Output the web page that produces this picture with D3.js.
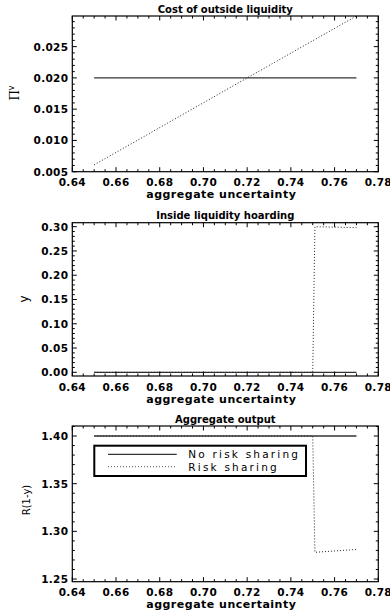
<!DOCTYPE html>
<html>
<head>
<meta charset="utf-8">
<script src="https://cdn.jsdelivr.net/npm/d3@7"></script>
<style>
	body { margin: 0; background: #fff; }
	.tick-label { font-family: "DejaVu Sans", sans-serif; font-weight: bold; font-size: 10.5px; letter-spacing: 0.3px; }
	.axis-title { font-family: "DejaVu Sans", sans-serif; font-weight: bold; font-size: 11px; }
	.panel-title { font-family: "DejaVu Sans", sans-serif; font-weight: bold; font-size: 10px; }
	.legend-text { font-family: "DejaVu Sans", sans-serif; font-size: 10.5px; letter-spacing: 2.2px; }
</style>
</head>
<body>
<div class="chart"></div>
<script>
	// ---- data ----
	var xTicks = [0.64, 0.66, 0.68, 0.70, 0.72, 0.74, 0.76, 0.78];

	// panel 1: cost of outside liquidity
	var costNoShareX = [0.65, 0.77];
	var costNoShareY = [0.020, 0.020];
	var costShareX = [0.65, 0.72, 0.77];
	var costShareY = [0.0061, 0.0200, 0.0299];
	var costTicks = [0.005, 0.010, 0.015, 0.020, 0.025];

	// panel 2: inside liquidity hoarding
	var hoardNoShareX = [0.65, 0.77];
	var hoardNoShareY = [0.0, 0.0];
	var hoardShareX = [0.65, 0.750, 0.751, 0.77];
	var hoardShareY = [0.0, 0.0, 0.300, 0.298];
	var hoardTicks = [0.00, 0.05, 0.10, 0.15, 0.20, 0.25, 0.30];

	// panel 3: aggregate output
	var outNoShareX = [0.65, 0.77];
	var outNoShareY = [1.40, 1.40];
	var outShareX = [0.65, 0.750, 0.751, 0.77];
	var outShareY = [1.40, 1.40, 1.278, 1.281];
	var outTicks = [1.25, 1.30, 1.35, 1.40];

	var legendLabels = ['No risk sharing', 'Risk sharing'];

	// ---- svg ----
	var W = 390, H = 614;
	var svg = d3.select('.chart').append('svg')
		.attr('width', W)
		.attr('height', H)
		.style('background-color', '#fff');

	var left = 72.3, right = 378.3;
	var xScale = d3.scaleLinear().domain([0.64, 0.78]).range([left, right]);

	function zip(xs, ys) { return xs.map(function(x, i){ return [x, ys[i]]; }); }

	function drawPanel(cfg) {
		var yScale = d3.scaleLinear().domain(cfg.yDomain).range([cfg.bottom, cfg.top]);
		var g = svg.append('g');

		var line = d3.line()
			.x(function(d){ return xScale(d[0]); })
			.y(function(d){ return yScale(d[1]); });

		// lines
		g.append('path')
			.attr('d', line(zip(cfg.solidX, cfg.solidY)))
			.attr('fill', 'none')
			.attr('stroke', '#333')
			.attr('stroke-width', 1.3);

		g.append('path')
			.attr('d', line(zip(cfg.dotX, cfg.dotY)))
			.attr('fill', 'none')
			.attr('stroke', '#222')
			.attr('stroke-width', 1)
			.attr('stroke-dasharray', '1,2');

		// inward ticks on all four sides, major + minor
		var xMinor = d3.range(0, 29).map(function(i){ return 0.64 + i * 0.005; });
		xMinor.forEach(function(v, i){
			var len = (i % 4 === 0) ? 4.5 : 2.5;
			var x = xScale(v);
			g.append('line').attr('x1', x).attr('x2', x).attr('y1', cfg.bottom).attr('y2', cfg.bottom - len).attr('stroke', '#000');
			g.append('line').attr('x1', x).attr('x2', x).attr('y1', cfg.top).attr('y2', cfg.top + len).attr('stroke', '#000');
		});

		var step = cfg.ticks[1] - cfg.ticks[0];
		var sub = step / 5;
		var start = cfg.ticks[0] - 5 * sub;
		for (var k = 0; k < 60; k++) {
			var v = start + k * sub;
			if (v < cfg.yDomain[0] - 1e-9 || v > cfg.yDomain[1] + 1e-9) continue;
			var len = (k % 5 === 0) ? 4.5 : 2.5;
			var y = yScale(v);
			g.append('line').attr('x1', left).attr('x2', left + len).attr('y1', y).attr('y2', y).attr('stroke', '#000');
			g.append('line').attr('x1', right).attr('x2', right - len).attr('y1', y).attr('y2', y).attr('stroke', '#000');
		}

		// frame
		g.append('rect')
			.attr('x', left).attr('y', cfg.top)
			.attr('width', right - left).attr('height', cfg.bottom - cfg.top)
			.attr('fill', 'none').attr('stroke', '#000').attr('stroke-width', 1.2);

		// tick labels
		g.selectAll('.xl').data(xTicks).enter().append('text')
			.attr('class', 'tick-label')
			.attr('x', function(d){ return xScale(d); })
			.attr('y', cfg.bottom + 14.5)
			.attr('text-anchor', 'middle')
			.text(function(d){ return d3.format('.2f')(d); });

		g.selectAll('.yl').data(cfg.ticks).enter().append('text')
			.attr('class', 'tick-label')
			.attr('x', left - 4)
			.attr('y', function(d){ return yScale(d) + 4; })
			.attr('text-anchor', 'end')
			.text(function(d){ return d3.format(cfg.fmt)(d); });

		// titles
		g.append('text')
			.attr('class', 'panel-title')
			.attr('x', (left + right) / 2)
			.attr('y', cfg.top - 3.5)
			.attr('text-anchor', 'middle')
			.text(cfg.title);

		g.append('text')
			.attr('class', 'axis-title')
			.attr('x', (left + right) / 2 - 4)
			.attr('y', cfg.bottom + 26.5)
			.attr('text-anchor', 'middle')
			.attr('letter-spacing', '0.5px')
			.text('aggregate uncertainty');

		return {g: g, y: yScale};
	}

	var p1 = drawPanel({
		top: 16, bottom: 171.7, yDomain: [0.005, 0.0299],
		ticks: costTicks, fmt: '.3f', title: 'Cost of outside liquidity',
		solidX: costNoShareX, solidY: costNoShareY, dotX: costShareX, dotY: costShareY
	});
	var p2 = drawPanel({
		top: 222.7, bottom: 376, yDomain: [-0.0076, 0.3082],
		ticks: hoardTicks, fmt: '.2f', title: 'Inside liquidity hoarding',
		solidX: hoardNoShareX, solidY: hoardNoShareY, dotX: hoardShareX, dotY: hoardShareY
	});
	var p3 = drawPanel({
		top: 426, bottom: 581.7, yDomain: [1.2472, 1.4105],
		ticks: outTicks, fmt: '.2f', title: 'Aggregate output',
		solidX: outNoShareX, solidY: outNoShareY, dotX: outShareX, dotY: outShareY
	});

	// y axis labels
	var piLab = svg.append('text')
		.attr('transform', 'translate(19,93) rotate(-90)')
		.attr('text-anchor', 'middle')
		.style('font-family', '"DejaVu Serif", serif')
		.style('font-size', '12px');
	piLab.append('tspan').text('\u03A0');
	piLab.append('tspan').attr('dy', -5).style('font-size', '8px').style('font-family', '"DejaVu Sans", sans-serif').text('v');

	svg.append('text')
		.attr('transform', 'translate(28,299) rotate(-90)')
		.attr('text-anchor', 'middle')
		.style('font-family', '"DejaVu Sans", sans-serif')
		.style('font-size', '12px')
		.text('y');

	svg.append('text')
		.attr('transform', 'translate(30,500) rotate(-90)')
		.attr('text-anchor', 'middle')
		.style('font-family', '"DejaVu Sans", sans-serif')
		.style('font-size', '10px')
		.text('R(1-y)');

	// legend in bottom panel
	var lg = svg.append('g');
	lg.append('rect')
		.attr('x', 94.3).attr('y', 445.7)
		.attr('width', 211.7).attr('height', 30.3)
		.attr('fill', '#fff').attr('stroke', '#000').attr('stroke-width', 2);

	legendLabels.forEach(function(lab, i){
		var ly = 454.3 + i * 12.4;
		lg.append('line')
			.attr('x1', 108).attr('x2', 176.7)
			.attr('y1', ly).attr('y2', ly)
			.attr('stroke', i === 0 ? '#333' : '#555')
			.attr('stroke-width', i === 0 ? 1.3 : 1)
			.attr('stroke-dasharray', i === 0 ? null : '1,2');
		lg.append('text')
			.attr('class', 'legend-text')
			.attr('x', 188.3)
			.attr('y', ly + 4)
			.text(lab);
	});
</script>
</body>
</html>
